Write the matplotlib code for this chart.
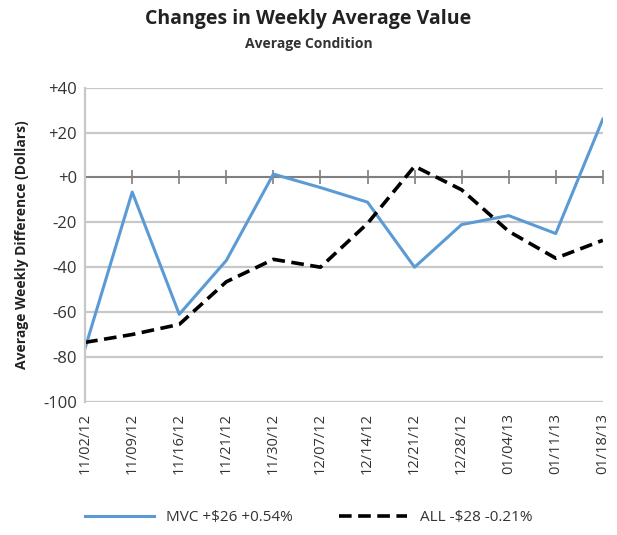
import matplotlib.pyplot as plt

plt.rcParams['font.family'] = ['Open Sans', 'DejaVu Sans']

dates = ['11/02/12', '11/09/12', '11/16/12', '11/21/12', '11/30/12', '12/07/12',
         '12/14/12', '12/21/12', '12/28/12', '01/04/13', '01/11/13', '01/18/13']
mvc = [-76, -6.5, -61, -37, 1.5, -4.5, -11, -40, -21, -17, -25, 26]
all_vals = [-73.5, -70, -65.5, -46.5, -36.5, -40, -20.5, 5, -5.5, -24, -36, -28]
yticks = [40, 20, 0, -20, -40, -60, -80, -100]
ytick_labels = ['+40', '+20', '+0', '-20', '-40', '-60', '-80', '-100']

fig = plt.figure(figsize=(6.17, 5.35), dpi=100)
ax = fig.add_axes([0.138, 0.249, 0.839, 0.587])

x = list(range(len(dates)))
ax.plot(x, mvc, color='#5b9bd5', lw=2.2, label='MVC +$26 +0.54%')
ax.plot(x, all_vals, color='black', lw=2.6, ls=(0, (3.5, 1.8)), label='ALL -$28 -0.21%')

ax.set_xlim(0, len(dates) - 1)
ax.set_ylim(-100, 40)
ax.set_yticks(yticks)
ax.set_yticklabels(ytick_labels, fontsize=12, color='#333333')
ax.set_xticks(x)
ax.set_xticklabels(dates, rotation=90, fontsize=10.5, color='#333333')
ax.tick_params(length=0, pad=6)
ax.tick_params(axis='x', pad=8)

ax.grid(axis='y', color='#c8c8c8', lw=1.6)
ax.set_axisbelow(True)
for s in ['top', 'right', 'bottom']:
    ax.spines[s].set_visible(False)
ax.spines['left'].set_color('#c8c8c8')
ax.spines['left'].set_linewidth(1.6)

# category axis crosses at zero
ax.axhline(0, color='#7f7f7f', lw=1.4, zorder=1)
ax.scatter(x, [0] * len(x), marker='|', s=90, color='#7f7f7f', lw=1.2, zorder=1)

ax.set_ylabel('Average Weekly Difference (Dollars)', fontsize=10, fontweight='bold',
              color='#222222', labelpad=10)

fig.text(0.5, 0.965, 'Changes in Weekly Average Value', ha='center', va='center',
         fontsize=14, fontweight='bold', color='#222222')
fig.text(0.5, 0.918, 'Average Condition', ha='center', va='center',
         fontsize=10, fontweight='bold', color='#333333')

fig.legend(loc='center', bbox_to_anchor=(0.5, 0.032), ncol=2, frameon=False,
           fontsize=11, handlelength=4.5, columnspacing=3, labelcolor='#333333')

fig.savefig('out.png', dpi=100)
